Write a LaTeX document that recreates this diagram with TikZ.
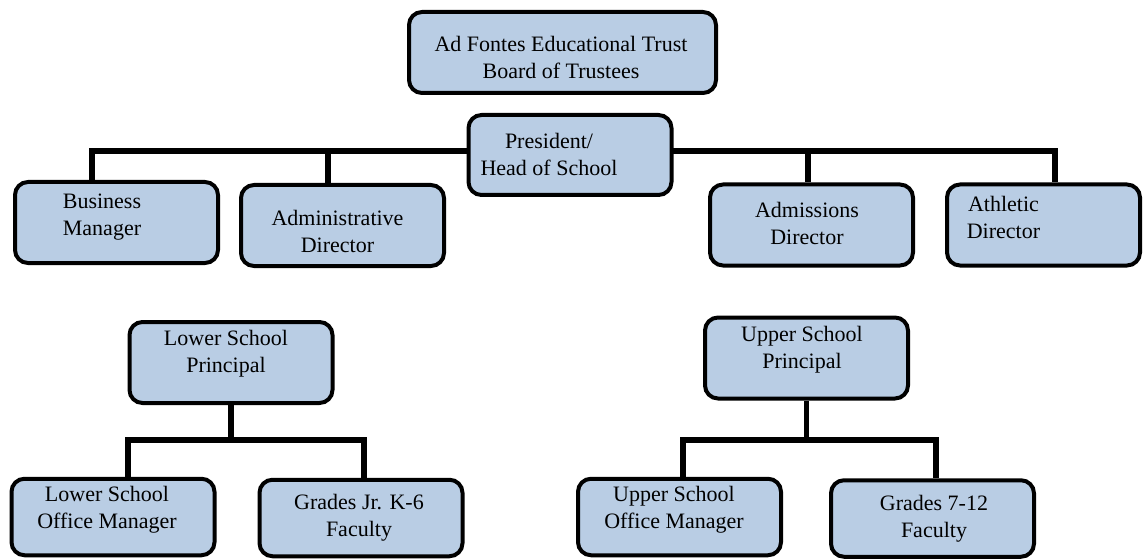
\documentclass[tikz,border=0pt]{standalone}
\usepackage{fontspec}
\setmainfont{Liberation Serif}
\usetikzlibrary{backgrounds}
\definecolor{boxblue}{RGB}{185,205,228}

\begin{document}
\begin{tikzpicture}[x=1pt, y=-1pt]
  % Define styles
  \tikzstyle{unit} = [rectangle, rounded corners=13pt, draw=black, line width=4pt, fill=boxblue, minimum width=203pt, minimum height=81pt, inner sep=0pt]
  \tikzstyle{staff} = [unit, minimum height=76.5pt]
  \tikzstyle{tag} = [align=center, text=black, font=\fontsize{22}{27}\selectfont, inner sep=0pt]
  \tikzstyle{link} = [draw=black, line width=5.5pt]

  \useasboundingbox (0,0) rectangle (1144,559);

  % Place nodes
  \node [unit, minimum width=307pt, label={[tag, xshift=-1.5pt, yshift=-4.5pt]center:Ad Fontes Educational Trust\\Board of Trustees}] (board) at (562.5,52.5) {};
  \node [unit, minimum height=80pt, label={[tag, xshift=-21pt, yshift=1pt]center:President/\\Head of School}] (president) at (570,155) {};

  \node [unit, label={[tag, xshift=-14.5pt, yshift=5pt]center:Business\\Manager}] (bizmgr) at (116.5,222.5) {};
  \node [unit, label={[tag, xshift=-5pt, yshift=-6pt]center:Administrative\\Director}] (admindir) at (342.5,225.5) {};
  \node [unit, label={[tag, xshift=-4.5pt, yshift=1.5pt]center:Admissions\\Director}] (admisdir) at (811.5,225) {};
  \node [unit, minimum width=193pt, label={[tag, xshift=-40pt, yshift=7.5pt]center:Athletic\\Director}] (athdir) at (1043.5,225) {};

  \node [unit, label={[tag, xshift=-5pt, yshift=8.5pt]center:Lower School\\Principal}] (lowprin) at (231,362.5) {};
  \node [unit, label={[tag, xshift=-4.5pt, yshift=8.5pt]center:Upper School\\Principal}] (upprin) at (806.5,358) {};

  \node [staff, label={[tag, xshift=-6pt, yshift=7pt]center:Lower School\\Office Manager}] (lowoff) at (113,517) {};
  \node [staff, label={[tag, xshift=-2pt]center:Grades Jr. K-6\\Faculty}] (gradesjr) at (361,518) {};
  \node [staff, label={[tag, xshift=-5.5pt, yshift=7pt]center:Upper School\\Office Manager}] (upoff) at (679.5,517) {};
  \node [staff, label={[tag, xshift=1.5pt]center:Grades 7-12\\Faculty}] (grades) at (932.5,518.5) {};

  % Junction points
  \coordinate (topL) at (92,151);
  \coordinate (topR) at (1055,151);
  \coordinate (adminJ) at (328,151);
  \coordinate (admisJ) at (808,151);
  \coordinate (lowL) at (128,440);
  \coordinate (lowR) at (364,440);
  \coordinate (upL) at (683,440);
  \coordinate (upR) at (936,440);

  % Draw edges
  \begin{scope}[on background layer]
    \path [link] (bizmgr.north -| topL) -- (topL) -- (topR) -- (athdir.north -| topR);
    \path [link] (adminJ) -- (admindir.north -| adminJ);
    \path [link] (admisJ) -- (admisdir.north -| admisJ);
    \path [link] (lowprin.south) -- (lowprin.south |- lowL);
    \path [link] (lowoff.north -| lowL) -- (lowL) -- (lowR) -- (gradesjr.north -| lowR);
    \path [link] (upprin.south) -- (upprin.south |- upL);
    \path [link] (upoff.north -| upL) -- (upL) -- (upR) -- (grades.north -| upR);
  \end{scope}
\end{tikzpicture}
\end{document}
